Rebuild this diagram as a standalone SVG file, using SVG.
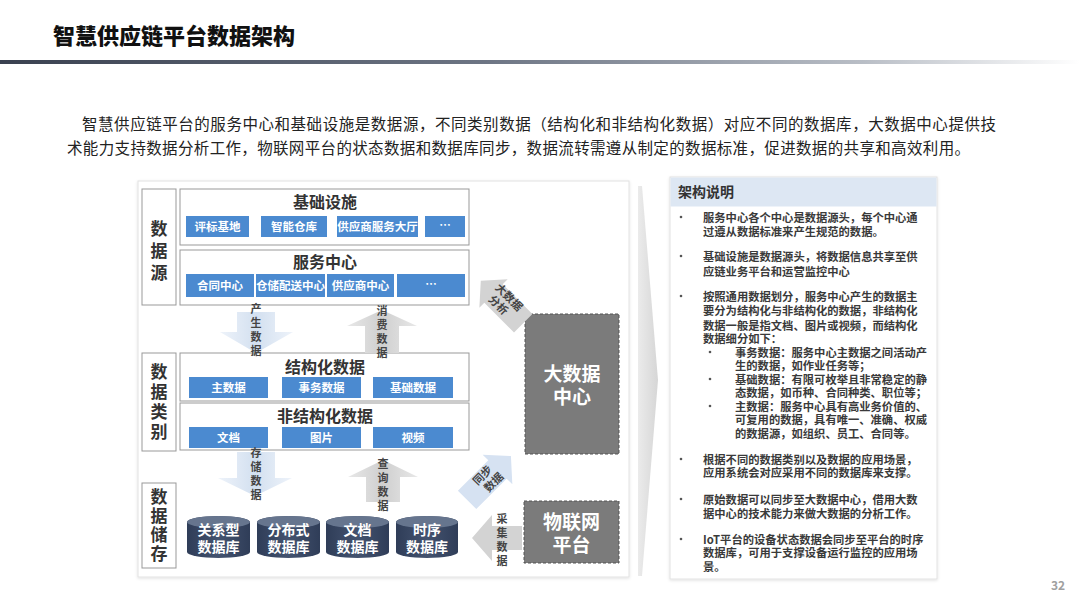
<svg xmlns="http://www.w3.org/2000/svg" width="1080" height="608" viewBox="0 0 1080 608">
<defs>
<linearGradient id="bar" x1="0" y1="0" x2="1" y2="0">
<stop offset="0" stop-color="#3a4150"/>
<stop offset="0.45" stop-color="#6d7584"/>
<stop offset="0.8" stop-color="#b9bec6"/>
<stop offset="1" stop-color="#ffffff"/>
</linearGradient>
<linearGradient id="blueArr" x1="0" y1="0" x2="1" y2="0">
<stop offset="0" stop-color="#eef3fa"/>
<stop offset="0.5" stop-color="#d3e0f0"/>
<stop offset="1" stop-color="#eef3fa"/>
</linearGradient>
<linearGradient id="greyArr" x1="0" y1="0" x2="1" y2="0">
<stop offset="0" stop-color="#e8e8e8"/>
<stop offset="0.5" stop-color="#cfcfcf"/>
<stop offset="1" stop-color="#e8e8e8"/>
</linearGradient>
<linearGradient id="chev" x1="0" y1="0" x2="1" y2="0">
<stop offset="0" stop-color="#ebebeb"/>
<stop offset="1" stop-color="#d6d6d6"/>
</linearGradient>
<linearGradient id="cyl" x1="0" y1="0" x2="1" y2="0">
<stop offset="0" stop-color="#2f3d58"/>
<stop offset="0.5" stop-color="#44536f"/>
<stop offset="1" stop-color="#2f3d58"/>
</linearGradient>
<filter id="sh" x="-5%" y="-5%" width="110%" height="110%">
<feDropShadow dx="0" dy="1" stdDeviation="1.5" flood-color="#000" flood-opacity="0.12"/>
</filter>
</defs>
<style>
text{font-family:"Noto Sans CJK SC","Liberation Sans",sans-serif;}
.title{font-size:22px;font-weight:900;fill:#111;}
.intro{font-size:15.5px;fill:#222;}
.frame{fill:#fff;stroke:#999;stroke-width:1;}
.side{font-size:17px;font-weight:bold;fill:#333;text-anchor:middle;writing-mode:vertical-rl;}
.hdr{font-size:16px;font-weight:bold;fill:#333;text-anchor:middle;}
.chip{fill:#4b8ad0;}
.chipt{font-size:11.5px;font-weight:bold;fill:#fff;text-anchor:middle;}
.vt{font-size:11px;font-weight:bold;fill:#444;text-anchor:middle;}
.vv{font-size:11px;font-weight:bold;fill:#444;text-anchor:middle;writing-mode:vertical-rl;letter-spacing:3px;}
.dbt{font-size:14px;font-weight:bold;fill:#fff;text-anchor:middle;}
.dark{fill:#7b7b7b;stroke:#555;stroke-width:1;stroke-dasharray:3 2;}
.bigt{font-size:19px;font-weight:bold;fill:#fff;text-anchor:middle;}
.note{font-size:11.3px;font-weight:bold;fill:#3a3a3a;}
.dot{fill:#555;}
</style>

<!-- header -->
<text class="title" x="53" y="44">智慧供应链平台数据架构</text>
<rect x="0" y="60" width="1080" height="4" fill="url(#bar)"/>

<text class="intro" x="82" y="130" textLength="914" lengthAdjust="spacing">智慧供应链平台的服务中心和基础设施是数据源，不同类别数据（结构化和非结构化数据）对应不同的数据库，大数据中心提供技</text>
<text class="intro" x="67" y="154" textLength="903" lengthAdjust="spacing">术能力支持数据分析工作，物联网平台的状态数据和数据库同步，数据流转需遵从制定的数据标准，促进数据的共享和高效利用。</text>

<!-- left panel -->
<rect id="leftPanel" x="138" y="181" width="491" height="396" fill="#fff" stroke="#e2e2e2" stroke-width="1" filter="url(#sh)"/>

<g id="label-source">
<rect class="frame" x="142" y="189" width="34" height="116"/>
<text class="side" x="159" y="253" letter-spacing="5">数据源</text>
</g>

<g id="node-infra">
<rect class="frame" x="180" y="189" width="289" height="56"/>
<text class="hdr" x="325" y="208">基础设施</text>
<rect class="chip" x="186" y="216" width="63" height="21"/>
<text class="chipt" x="217.5" y="230.5">评标基地</text>
<rect class="chip" x="261" y="216" width="66" height="21"/>
<text class="chipt" x="294" y="230.5">智能仓库</text>
<rect class="chip" x="337" y="216" width="81" height="21"/>
<text class="chipt" x="377.5" y="230.5">供应商服务大厅</text>
<rect class="chip" x="425" y="216" width="40" height="21"/>
<text class="chipt" x="445" y="229" font-size="10">…</text>
</g>

<g id="node-service">
<rect class="frame" x="180" y="250" width="289" height="55"/>
<text class="hdr" x="325" y="268">服务中心</text>
<rect class="chip" x="186" y="274" width="68" height="23"/>
<text class="chipt" x="220" y="289.5">合同中心</text>
<rect class="chip" x="256" y="274" width="69" height="23"/>
<text class="chipt" x="290.5" y="289.5">仓储配送中心</text>
<rect class="chip" x="327" y="274" width="67" height="23"/>
<text class="chipt" x="360.5" y="289.5">供应商中心</text>
<rect class="chip" x="397" y="274" width="68" height="23"/>
<text class="chipt" x="431" y="288" font-size="10">…</text>
</g>

<g id="label-category">
<rect class="frame" x="142" y="353" width="34" height="98"/>
<text class="side" x="159" y="403" letter-spacing="3">数据类别</text>
</g>

<g id="node-structured">
<rect class="frame" x="180" y="353" width="289" height="48"/>
<text class="hdr" x="325" y="373">结构化数据</text>
<rect class="chip" x="189" y="377" width="79" height="21"/>
<text class="chipt" x="228.5" y="391.5">主数据</text>
<rect class="chip" x="282" y="377" width="79" height="21"/>
<text class="chipt" x="321.5" y="391.5">事务数据</text>
<rect class="chip" x="373" y="377" width="80" height="21"/>
<text class="chipt" x="413" y="391.5">基础数据</text>
</g>

<g id="node-unstructured">
<rect class="frame" x="180" y="403" width="289" height="47"/>
<text class="hdr" x="325" y="422">非结构化数据</text>
<rect class="chip" x="189" y="427" width="79" height="21"/>
<text class="chipt" x="228.5" y="441.5">文档</text>
<rect class="chip" x="282" y="427" width="79" height="21"/>
<text class="chipt" x="321.5" y="441.5">图片</text>
<rect class="chip" x="373" y="427" width="80" height="21"/>
<text class="chipt" x="413" y="441.5">视频</text>
</g>

<g id="label-storage">
<rect class="frame" x="142" y="483" width="34" height="85"/>
<text class="side" x="159" y="526" letter-spacing="2">数据储存</text>
</g>

<g id="node-db-rel">
<path d="M187,522 A31.5,6 0 0 1 250,522 L250,552 A31.5,6 0 0 1 187,552 Z" fill="url(#cyl)"/>
<ellipse cx="218.5" cy="522" rx="31.5" ry="6" fill="#66758e"/>
<text class="dbt" x="218.5" y="535">关系型<tspan x="218.5" dy="17">数据库</tspan></text>
</g>
<g id="node-db-dist">
<path d="M257,522 A31.5,6 0 0 1 320,522 L320,552 A31.5,6 0 0 1 257,552 Z" fill="url(#cyl)"/>
<ellipse cx="288.5" cy="522" rx="31.5" ry="6" fill="#66758e"/>
<text class="dbt" x="288.5" y="535">分布式<tspan x="288.5" dy="17">数据库</tspan></text>
</g>
<g id="node-db-doc">
<path d="M326,522 A31.5,6 0 0 1 389,522 L389,552 A31.5,6 0 0 1 326,552 Z" fill="url(#cyl)"/>
<ellipse cx="357.5" cy="522" rx="31.5" ry="6" fill="#66758e"/>
<text class="dbt" x="357.5" y="535">文档<tspan x="357.5" dy="17">数据库</tspan></text>
</g>
<g id="node-db-ts">
<path d="M396,522 A31,6 0 0 1 458,522 L458,552 A31,6 0 0 1 396,552 Z" fill="url(#cyl)"/>
<ellipse cx="427" cy="522" rx="31" ry="6" fill="#66758e"/>
<text class="dbt" x="427" y="535">时序<tspan x="427" dy="17">数据库</tspan></text>
</g>

<g id="node-bigdata">
<rect class="dark" x="525" y="314" width="94" height="140"/>
<text class="bigt" x="572" y="381">大数据<tspan x="572" dy="23">中心</tspan></text>
</g>

<g id="node-iot">
<rect class="dark" x="524" y="501" width="95" height="62"/>
<text class="bigt" x="571.5" y="529">物联网<tspan x="571.5" dy="23">平台</tspan></text>
</g>

<!-- connectors -->
<g id="connectors">
<polygon points="237,312 275,312 275,332 293,332 256,353 220,332 237,332" fill="url(#blueArr)"/>
<polygon points="382,310 417,326 399,326 399,353 365,353 365,326 347,326" fill="url(#greyArr)"/>
<polygon points="237,452 275,452 275,478 292,478 255,496 218,478 237,478" fill="url(#blueArr)"/>
<polygon points="383,460 418,477 400,477 400,502 366,502 366,477 348,477" fill="url(#greyArr)"/>
<polygon points="472,538 492,515 492,526 522,526 522,550 492,550 492,561" fill="#d3d3d3"/>
<g transform="rotate(-45 502 302)">
<polygon points="502,272 522,290 515,290 515,332 489,332 489,290 482,290" fill="#d3d3d3"/>
</g>
<g transform="rotate(45 489 478)">
<polygon points="489,447 510,466 502,466 502,509 476,509 476,466 468,466" fill="#d6e2f2"/>
</g>

<text class="vv" x="256" y="331">产生数据</text>
<text class="vv" x="382" y="333">消费数据</text>
<text class="vv" x="256" y="475">存储数据</text>
<text class="vv" x="383" y="486">查询数据</text>
<text class="vv" x="502" y="541" letter-spacing="4">采集数据</text>

<text class="vt" transform="rotate(45 502 300)" x="505" y="297">大数据<tspan x="503" dy="13">分析</tspan></text>
<text class="vt" transform="rotate(-45 488 478)" x="486" y="476">同步<tspan x="489" dy="13">数据</tspan></text>

<polygon points="638,186 642,186 658,380 642,576 638,576" fill="url(#chev)"/>
</g>

<!-- right panel -->
<g id="node-notes">
<rect x="670" y="177" width="267" height="402" fill="#fff" stroke="#e2e2e2" stroke-width="1" filter="url(#sh)"/>
<rect x="670.5" y="177.5" width="266" height="29" fill="#dde7f3"/>
<text x="678" y="197" font-size="14" font-weight="bold" fill="#333">架构说明</text>

<circle class="dot" cx="681" cy="217" r="1.3"/>
<text class="note" x="703" y="222">服务中心各个中心是数据源头，每个中心通<tspan x="703" dy="14">过遵从数据标准来产生规范的数据。</tspan></text>

<circle class="dot" cx="681" cy="256" r="1.3"/>
<text class="note" x="703" y="261">基础设施是数据源头，将数据信息共享至供<tspan x="703" dy="15">应链业务平台和运营监控中心</tspan></text>

<circle class="dot" cx="681" cy="296" r="1.3"/>
<text class="note" x="703" y="301">按照通用数据划分，服务中心产生的数据主<tspan x="703" dy="14">要分为结构化与非结构化的数据，非结构化</tspan><tspan x="703" dy="15">数据一般是指文档、图片或视频，而结构化</tspan><tspan x="703" dy="13">数据细分如下：</tspan></text>

<circle class="dot" cx="710" cy="352" r="1.3"/>
<text class="note" x="735" y="357">事务数据：服务中心主数据之间活动产<tspan x="735" dy="13">生的数据，如作业任务等；</tspan></text>
<circle class="dot" cx="710" cy="379" r="1.3"/>
<text class="note" x="735" y="384">基础数据：有限可枚举且非常稳定的静<tspan x="735" dy="13">态数据，如币种、合同种类、职位等；</tspan></text>
<circle class="dot" cx="710" cy="406" r="1.3"/>
<text class="note" x="735" y="411">主数据：服务中心具有高业务价值的、<tspan x="735" dy="13">可复用的数据，具有唯一、准确、权威</tspan><tspan x="735" dy="14">的数据源，如组织、员工、合同等。</tspan></text>

<circle class="dot" cx="681" cy="459" r="1.3"/>
<text class="note" x="703" y="464">根据不同的数据类别以及数据的应用场景，<tspan x="703" dy="13">应用系统会对应采用不同的数据库来支撑。</tspan></text>

<circle class="dot" cx="681" cy="499" r="1.3"/>
<text class="note" x="703" y="504">原始数据可以同步至大数据中心，借用大数<tspan x="703" dy="14">据中心的技术能力来做大数据的分析工作。</tspan></text>

<circle class="dot" cx="681" cy="539" r="1.3"/>
<text class="note" x="703" y="544">IoT平台的设备状态数据会同步至平台的时序<tspan x="703" dy="13">数据库，可用于支撑设备运行监控的应用场</tspan><tspan x="703" dy="14">景。</tspan></text>
</g>

<text x="1058" y="590" font-size="12" font-weight="bold" fill="#a0a0a0" text-anchor="middle">32</text>
</svg>
